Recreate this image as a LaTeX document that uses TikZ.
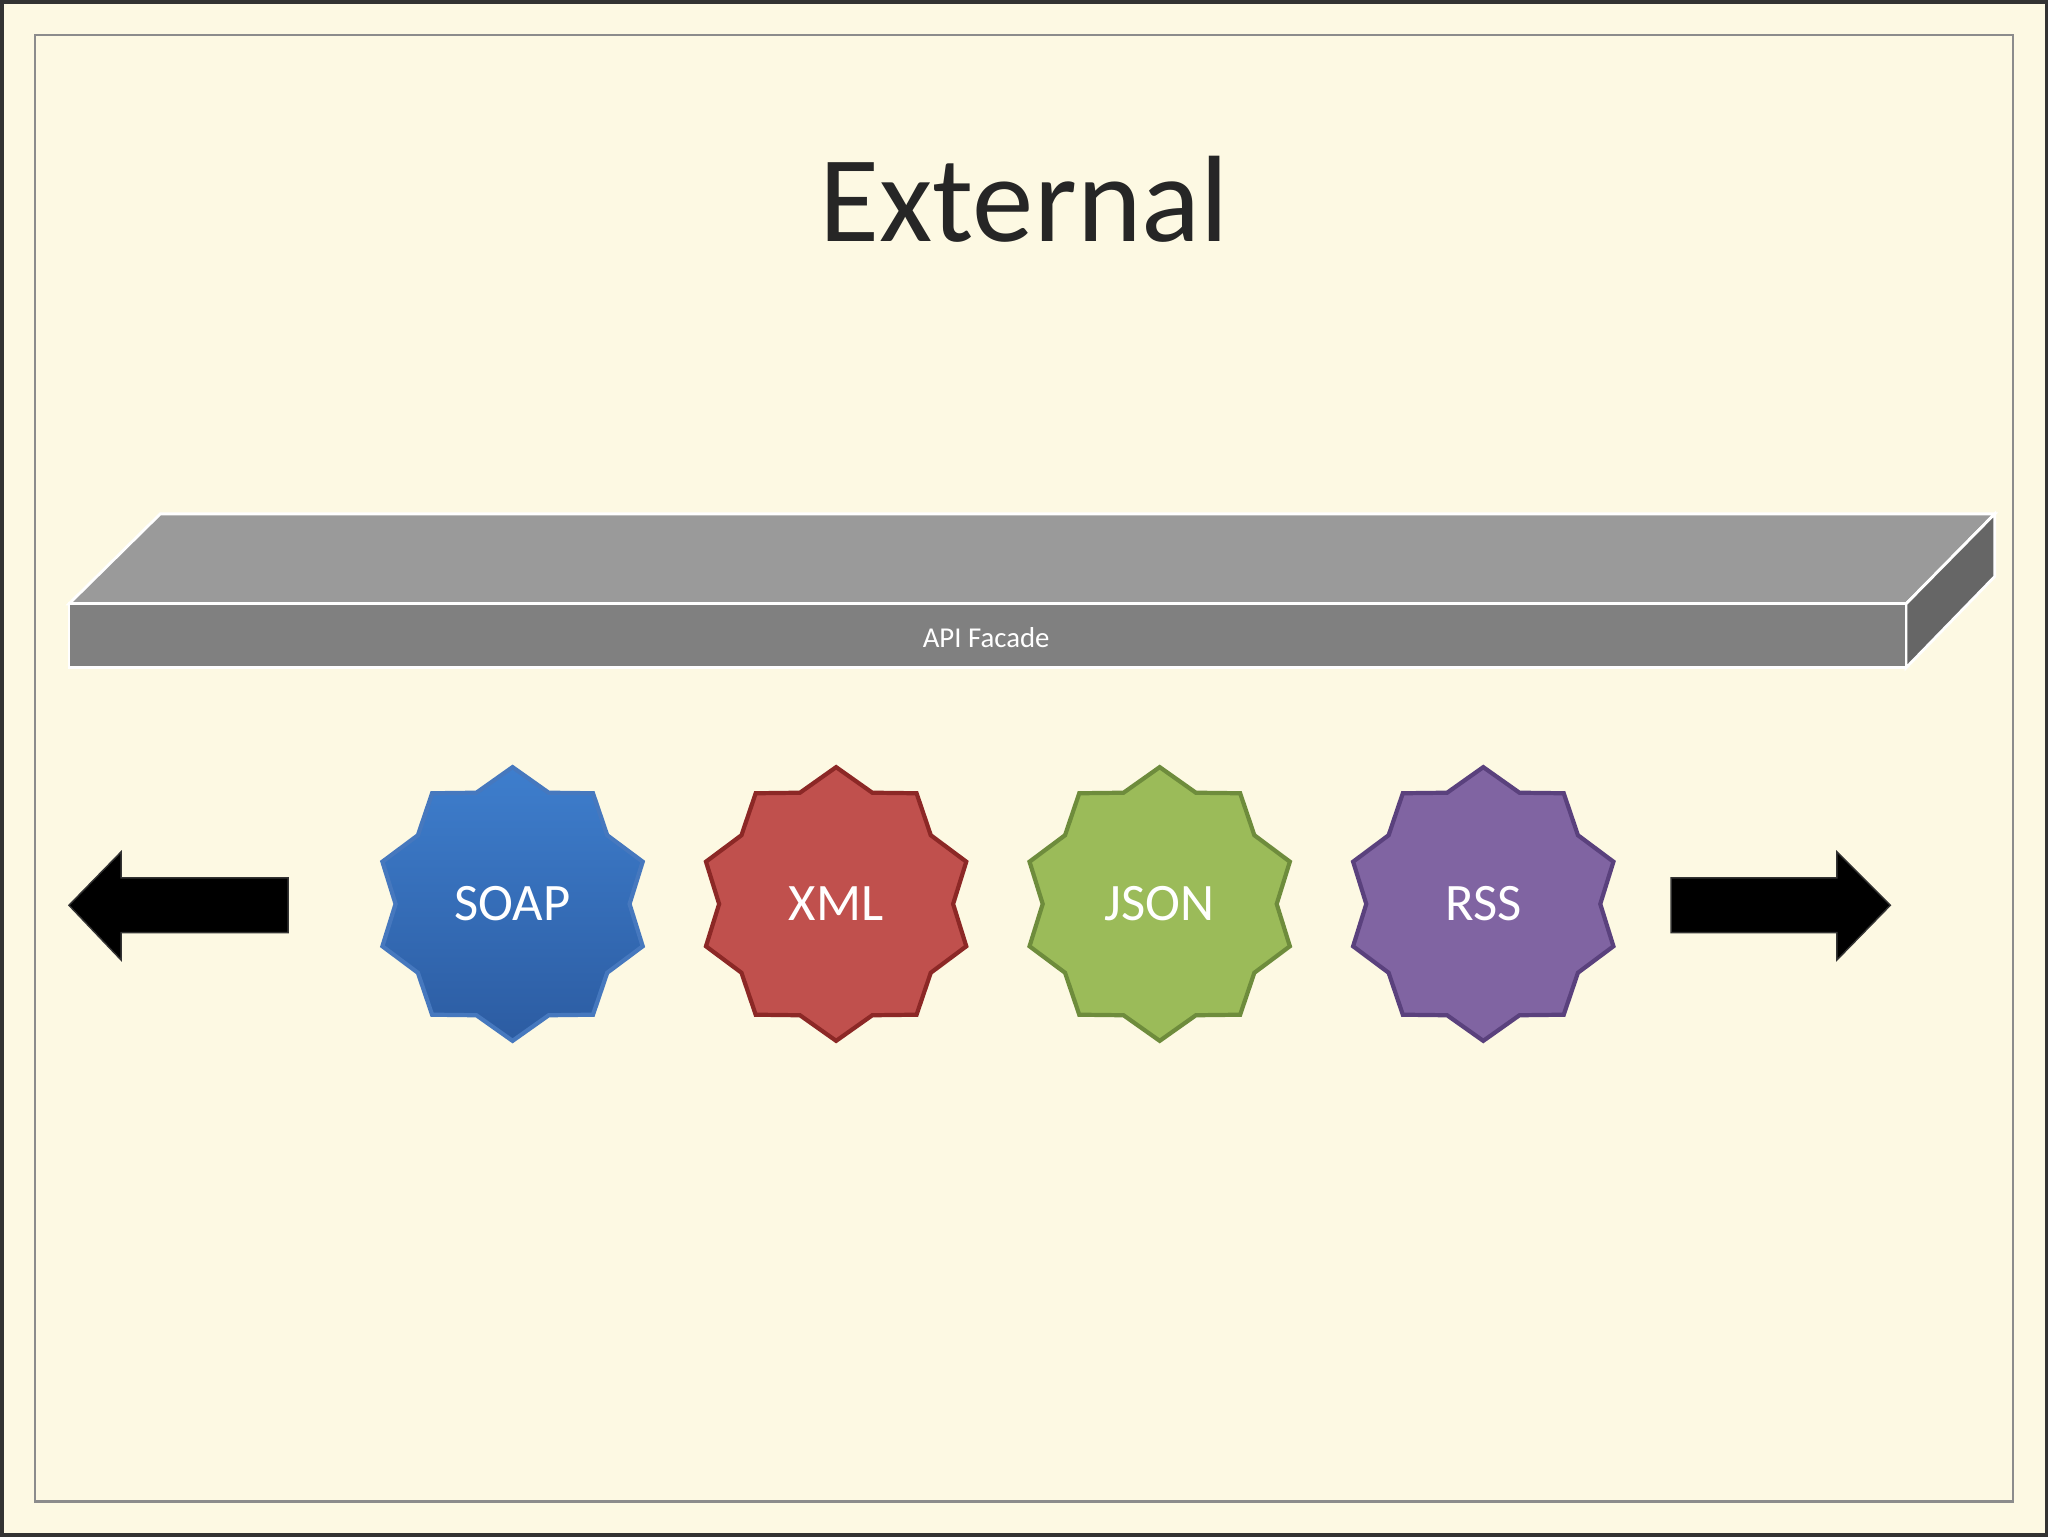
\documentclass[tikz,border=0pt]{standalone}
\usepackage{fontspec}
\setmainfont{Carlito}
\usetikzlibrary{shapes.geometric}
\definecolor{cream}{HTML}{FDF9E3}
\begin{document}
\begin{tikzpicture}[x=0.013061cm,y=-0.013061cm,
  badge/.style={star, star points=10, star point ratio=1.17, minimum size=2.74cm, inner sep=0pt, line width=1.2pt, text=white, font=\fontsize{15}{17}\selectfont},
  arr/.style={fill=black, draw=black!80}]
\fill[cream] (0,0) rectangle (1568,1176);
\draw[black!80, line width=1pt] (0.5,0.5) rectangle (1567.5,1175.5);
\draw[black!45, line width=0.8pt] (26,26) rectangle (1542,1150);
\node[font=\fontsize{35}{40}\selectfont, text=black!85] (title) at (784,152) {External};
% bar
\fill[gray!80!black!80, draw=white, line width=0.8pt, fill={rgb,255:red,154;green,154;blue,154}] (52,462) -- (122,393) -- (1528,393) -- (1460,462) -- cycle;
\filldraw[draw=white, line width=0.8pt, fill={rgb,255:red,102;green,102;blue,102}] (1460,462) -- (1528,393) -- (1528,441) -- (1460,511) -- cycle;
\filldraw[draw=white, line width=0.8pt, fill={rgb,255:red,128;green,128;blue,128}] (52,462) rectangle (1460,511);
\node[text=white, font=\fontsize{8.2}{10}\selectfont] (api) at (755,488) {API Facade};
% stars
\node[badge, draw={rgb,255:red,70;green,120;blue,190}, top color={rgb,255:red,62;green,126;blue,205}, bottom color={rgb,255:red,44;green,92;blue,162}] (soap) at (392,692) {SOAP};
\node[badge, draw={rgb,255:red,140;green,40;blue,38}, fill={rgb,255:red,192;green,80;blue,77}] (xml) at (640,692) {XML};
\node[badge, draw={rgb,255:red,110;green,140;blue,60}, fill={rgb,255:red,155;green,187;blue,89}] (json) at (888,692) {JSON};
\node[badge, draw={rgb,255:red,90;green,65;blue,125}, fill={rgb,255:red,128;green,100;blue,162}] (rss) at (1136,692) {RSS};
% arrows
\filldraw[arr] (52,693) -- (92,652) -- (92,672) -- (220,672) -- (220,714) -- (92,714) -- (92,735) -- cycle;
\filldraw[arr] (1448,693) -- (1407,652) -- (1407,672) -- (1280,672) -- (1280,714) -- (1407,714) -- (1407,735) -- cycle;
\end{tikzpicture}
\end{document}
